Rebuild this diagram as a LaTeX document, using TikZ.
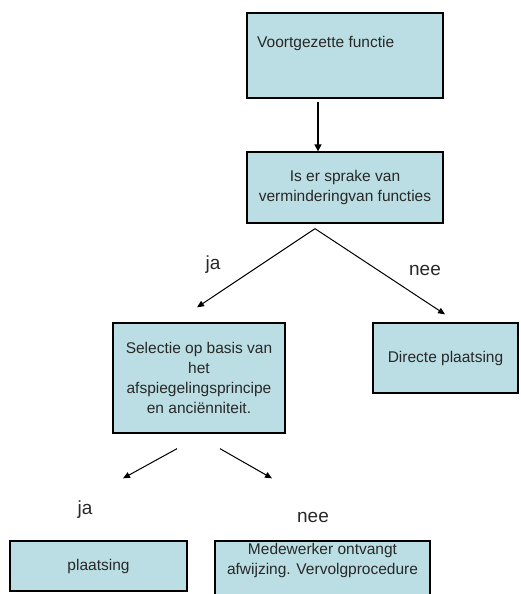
\documentclass[tikz,border=0pt]{standalone}
\usepackage{fontspec}
\setmainfont{Liberation Sans}
\usetikzlibrary{arrows.meta,calc}
\definecolor{boxfill}{RGB}{186,222,227}
\definecolor{txt}{RGB}{40,40,40}
\tikzset{
  box/.style={draw=black, line width=1.3pt, fill=boxfill, inner sep=0pt, text=txt,
    font=\fontsize{15.5}{20}\selectfont, align=center},
  lbl/.style={font=\fontsize{19}{22}\selectfont, text=txt, inner sep=0pt},
  boxtext/.style={font=\fontsize{15.5}{20}\selectfont, text=txt, inner sep=0pt, align=center},
  thickarrow/.style={line width=1.5pt, -{Triangle[length=7pt,width=7pt]}},
  thinarrow/.style={line width=1pt, -{Triangle[length=7pt,width=6pt]}}
}
\begin{document}
\begin{tikzpicture}[x=1pt,y=-1pt]
\useasboundingbox (0,0) rectangle (520,594);
\clip (0,0) rectangle (520,594);
\node[box, minimum width=196pt, minimum height=85pt] (b1) at (345,55.5) {};
\node[boxtext, anchor=west] (t1) at (257,43) {Voortgezette functie};
\node[box, minimum width=196pt, minimum height=71pt] (b2) at (345,187.5) {Is er sprake van\\verminderingvan functies};
\node[box, minimum width=172pt, minimum height=110pt] (b3) at (199,378) {Selectie op basis van\\het\\afspiegelingsprincipe\\en anciënniteit.};
\node[box, minimum width=145pt, minimum height=70pt] (b4) at (445.5,358) {Directe plaatsing};
\node[box, minimum width=177pt, minimum height=50pt] (b5) at (98.5,566) {plaatsing};
\node[box, minimum width=215pt, minimum height=62pt] (b6) at (322.5,572) {};
\node[boxtext] (t6) at (322.5,560.5) {Medewerker ontvangt\\afwijzing. Vervolgprocedure};
\node[lbl] (ja1) at (213,265) {ja};
\node[lbl] (nee1) at (425,270) {nee};
\node[lbl] (ja2) at (85,510) {ja};
\node[lbl] (nee2) at (313,517) {nee};
\coordinate (s1) at ($(b1.south)+(-27,3)$);
\coordinate (e1) at ($(b2.north)+(-27,0)$);
\draw[thickarrow] (s1) -- (e1);
\coordinate (s2) at ($(b2.south)+(-30,5)$);
\coordinate (e2l) at ($(b3.north)+(-2,-15)$);
\coordinate (e2r) at ($(b4.north)+(-0.5,-8)$);
\draw[thinarrow] (s2) -- (e2l);
\draw[thinarrow] (s2) -- (e2r);
\coordinate (s3l) at ($(b3.south)+(-22,15)$);
\coordinate (s3r) at ($(b3.south)+(21,15)$);
\coordinate (e3l) at ($(b5.north)+(24.5,-62)$);
\coordinate (e3r) at ($(b6.north)+(-50.5,-62)$);
\draw[thinarrow] (s3l) -- (e3l);
\draw[thinarrow] (s3r) -- (e3r);
\end{tikzpicture}
\end{document}
